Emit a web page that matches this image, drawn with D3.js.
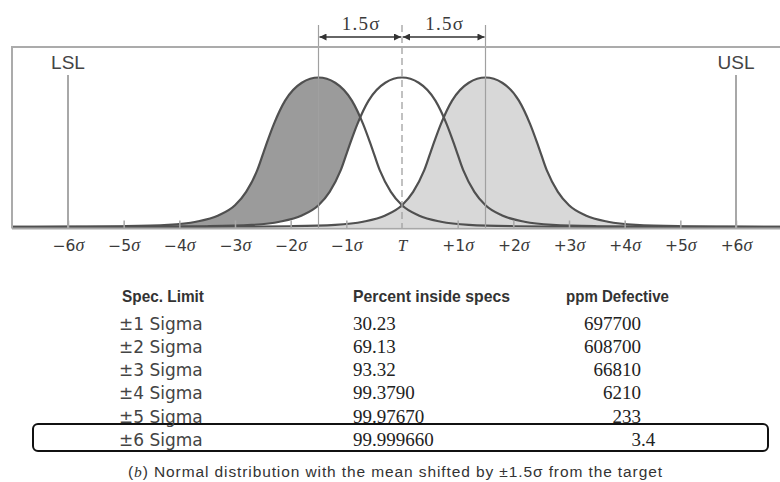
<!DOCTYPE html>
<html>
<head>
<meta charset="utf-8">
<script src="https://cdn.jsdelivr.net/npm/d3@7"></script>
<style>
  html, body { margin: 0; padding: 0; background: #fff; }
  svg { display: block; }
</style>
</head>
<body>
<svg id="chart" width="780" height="482"></svg>
<script>
// ---------------- DATA ----------------
const sigmaTicks = [-6, -5, -4, -3, -2, -1, 0, 1, 2, 3, 4, 5, 6];
const tickLabels = ["−6", "−5", "−4", "−3", "−2", "−1", "T", "+1", "+2", "+3", "+4", "+5", "+6"];
const specLimitNames = ["LSL", "USL"];
const specLimitValues = [-6, 6];
const shiftMeans = [-1.5, 0, 1.5];           // left-shifted, on-target, right-shifted
const shiftLabels = ["1.5σ", "1.5σ"];
// bell profile: distance from mean (in σ) -> relative height
const profileOffsets = [0, 0.3, 0.6, 0.8, 0.95, 1.1, 1.3, 1.5, 1.8, 2.2, 2.7, 3.5, 4.5, 6, 9];
const profileHeights = [1, 0.965, 0.845, 0.69, 0.54, 0.38, 0.235, 0.145, 0.077, 0.035, 0.014, 0.005, 0.002, 0.0005, 0];
const columnHeaders = ["Spec. Limit", "Percent inside specs", "ppm Defective"];
const specLimits = ["±1 Sigma", "±2 Sigma", "±3 Sigma", "±4 Sigma", "±5 Sigma", "±6 Sigma"];
const percentInside = ["30.23", "69.13", "93.32", "99.3790", "99.97670", "99.999660"];
const ppmDefective = ["697700", "608700", "66810", "6210", "233", "3.4"];
const caption = " Normal distribution with the mean shifted by ±1.5σ from the target";

// ---------------- LAYOUT ----------------
const svg = d3.select("#chart");
const x = d3.scaleLinear().domain([-6, 6]).range([68, 736]);
const y = d3.scaleLinear().domain([0, 1]).range([227, 77.5]);
const frameLeft = 12, frameTop = 47, axisY = 228.5, W = 780;

svg.append("defs").append("clipPath").attr("id", "plotclip")
  .append("rect").attr("x", frameLeft + 1).attr("y", frameTop).attr("width", W - frameLeft).attr("height", axisY - frameTop);

// profile -> points for a given mean
function bell(mean) {
  const left = profileOffsets.slice().reverse().map((o, i) => [mean - o, profileHeights[profileHeights.length - 1 - i]]);
  const right = profileOffsets.slice(1).map((o, i) => [mean + o, profileHeights[i + 1]]);
  return left.concat(right);
}
const area = d3.area().x(d => x(d[0])).y0(y(0)).y1(d => y(d[1])).curve(d3.curveMonotoneX);
const line = d3.line().x(d => x(d[0])).y(d => y(d[1])).curve(d3.curveMonotoneX);

const plot = svg.append("g").attr("clip-path", "url(#plotclip)");
const fills = ["#9b9b9b", "#ffffff", "#d8d8d8"];
shiftMeans.forEach((m, i) => {
  plot.append("path").attr("d", area(bell(m))).attr("fill", fills[i]);
});

// guide lines at shifted means and target
[shiftMeans[0], shiftMeans[2]].forEach(m => {
  svg.append("line").attr("x1", x(m)).attr("x2", x(m)).attr("y1", 25).attr("y2", axisY)
    .attr("stroke", "#a0a0a0").attr("stroke-width", 1.2);
});
svg.append("line").attr("x1", x(0)).attr("x2", x(0)).attr("y1", 25).attr("y2", axisY)
  .attr("stroke", "#a0a0a0").attr("stroke-width", 1.3).attr("stroke-dasharray", "7,4");

// curve outlines
shiftMeans.forEach(m => {
  plot.append("path").attr("d", line(bell(m))).attr("fill", "none")
    .attr("stroke", "#505050").attr("stroke-width", 2.2);
});

// frame
svg.append("path")
  .attr("d", `M${W},${frameTop}H${frameLeft}V${axisY}`)
  .attr("fill", "none").attr("stroke", "#ababab").attr("stroke-width", 2);

// axis
const axis = d3.axisBottom(x).tickValues(sigmaTicks).tickSizeInner(-8).tickSizeOuter(0)
  .tickFormat((d, i) => tickLabels[i]);
const gAxis = svg.append("g").attr("transform", `translate(0,${axisY})`).call(axis);
gAxis.select(".domain").attr("stroke", "#a8a8a8").attr("stroke-width", 2)
  .attr("d", `M${frameLeft},0H${W}`);
gAxis.selectAll(".tick line").attr("stroke", "#a8a8a8").attr("stroke-width", 1.5)
  .filter(d => d === 0).remove();
gAxis.selectAll(".tick text").each(function (d, i) {
  const t = d3.select(this);
  const lab = tickLabels[i];
  t.text(null).attr("y", 22).attr("dy", null).attr("fill", "#3a3a3a")
    .attr("font-family", "DejaVu Sans, sans-serif").attr("font-size", 15.5);
  if (lab === "T") {
    t.append("tspan").text("T").attr("font-family", "Liberation Serif, serif")
      .attr("font-style", "italic").attr("font-size", 17);
  } else {
    t.append("tspan").text(lab);
    t.append("tspan").text("σ").attr("font-family", "Liberation Serif, serif")
      .attr("font-style", "italic").attr("font-size", 18);
  }
});

// spec limit lines + labels
specLimitValues.forEach((v, i) => {
  svg.append("line").attr("x1", x(v)).attr("x2", x(v)).attr("y1", 75).attr("y2", axisY)
    .attr("stroke", "#a8a8a8").attr("stroke-width", 2);
  svg.append("text").attr("x", x(v)).attr("y", 69).attr("text-anchor", "middle")
    .attr("font-family", "Liberation Sans, Arial, sans-serif").attr("font-size", 19)
    .attr("fill", "#444").text(specLimitNames[i]);
});

// shift arrows
svg.append("defs").html(`
  <marker id="ah" viewBox="0 0 10 10" refX="10" refY="5" markerWidth="9" markerHeight="7" orient="auto-start-reverse" markerUnits="userSpaceOnUse">
    <path d="M0,0L10,5L0,10z" fill="#333"/>
  </marker>`);
[[shiftMeans[0], shiftMeans[1]], [shiftMeans[1], shiftMeans[2]]].forEach((pair, i) => {
  svg.append("line").attr("x1", x(pair[0]) + 1).attr("x2", x(pair[1]) - 1).attr("y1", 37).attr("y2", 37)
    .attr("stroke", "#333").attr("stroke-width", 1.5)
    .attr("marker-start", "url(#ah)").attr("marker-end", "url(#ah)");
  svg.append("text").attr("x", (x(pair[0]) + x(pair[1])) / 2 + 1).attr("y", 30)
    .attr("text-anchor", "middle").attr("font-family", "Liberation Serif, serif")
    .attr("font-size", 19).attr("letter-spacing", 1.2).attr("fill", "#3a3a3a")
    .text(shiftLabels[i]);
});

// ---------------- TABLE ----------------
const colX = [119, 353, 566];
const headerY = 302;
const headerW = [82, 157, 103];
const rowY = d3.scalePoint().domain(specLimits).range([329.5, 446]);

columnHeaders.forEach((h, i) => {
  svg.append("text").attr("x", colX[i] + (i === 0 ? 3 : 0)).attr("y", headerY)
    .attr("font-family", "Liberation Sans Narrow, Liberation Sans, Arial, sans-serif")
    .attr("font-weight", "bold").attr("font-size", 16.5).attr("fill", "#333")
    .attr("textLength", headerW[i]).attr("lengthAdjust", "spacingAndGlyphs").text(h);
});

// highlight box for the last row
const last = specLimits[specLimits.length - 1];
svg.append("rect").attr("x", 33).attr("y", rowY(last) - 22).attr("width", 735).attr("height", 27)
  .attr("rx", 5).attr("fill", "none").attr("stroke", "#111").attr("stroke-width", 2);

specLimits.forEach((s, i) => {
  const yy = rowY(s);
  svg.append("text").attr("x", colX[0]).attr("y", yy)
    .attr("font-family", "DejaVu Sans, sans-serif").attr("font-size", 17).attr("fill", "#444").text(s);
  svg.append("text").attr("x", colX[1]).attr("y", yy)
    .attr("font-family", "Liberation Serif, serif").attr("font-size", 19).attr("fill", "#222").text(percentInside[i]);
  const parts = ppmDefective[i].split(".");
  svg.append("text").attr("x", 641).attr("y", yy).attr("text-anchor", "end")
    .attr("font-family", "Liberation Serif, serif").attr("font-size", 19).attr("fill", "#222").text(parts[0]);
  if (parts.length > 1) {
    svg.append("text").attr("x", 641).attr("y", yy)
      .attr("font-family", "Liberation Serif, serif").attr("font-size", 19).attr("fill", "#222").text("." + parts[1]);
  }
});

// caption
const cap = svg.append("text").attr("x", 128).attr("y", 477)
  .attr("font-family", "Liberation Sans, Arial, sans-serif").attr("font-size", 15.5).attr("fill", "#333")
  .attr("textLength", 534).attr("lengthAdjust", "spacing");
cap.append("tspan").text("(");
cap.append("tspan").text("b").attr("font-family", "Liberation Serif, serif").attr("font-style", "italic");
cap.append("tspan").text(")" + caption);
</script>
</body>
</html>
